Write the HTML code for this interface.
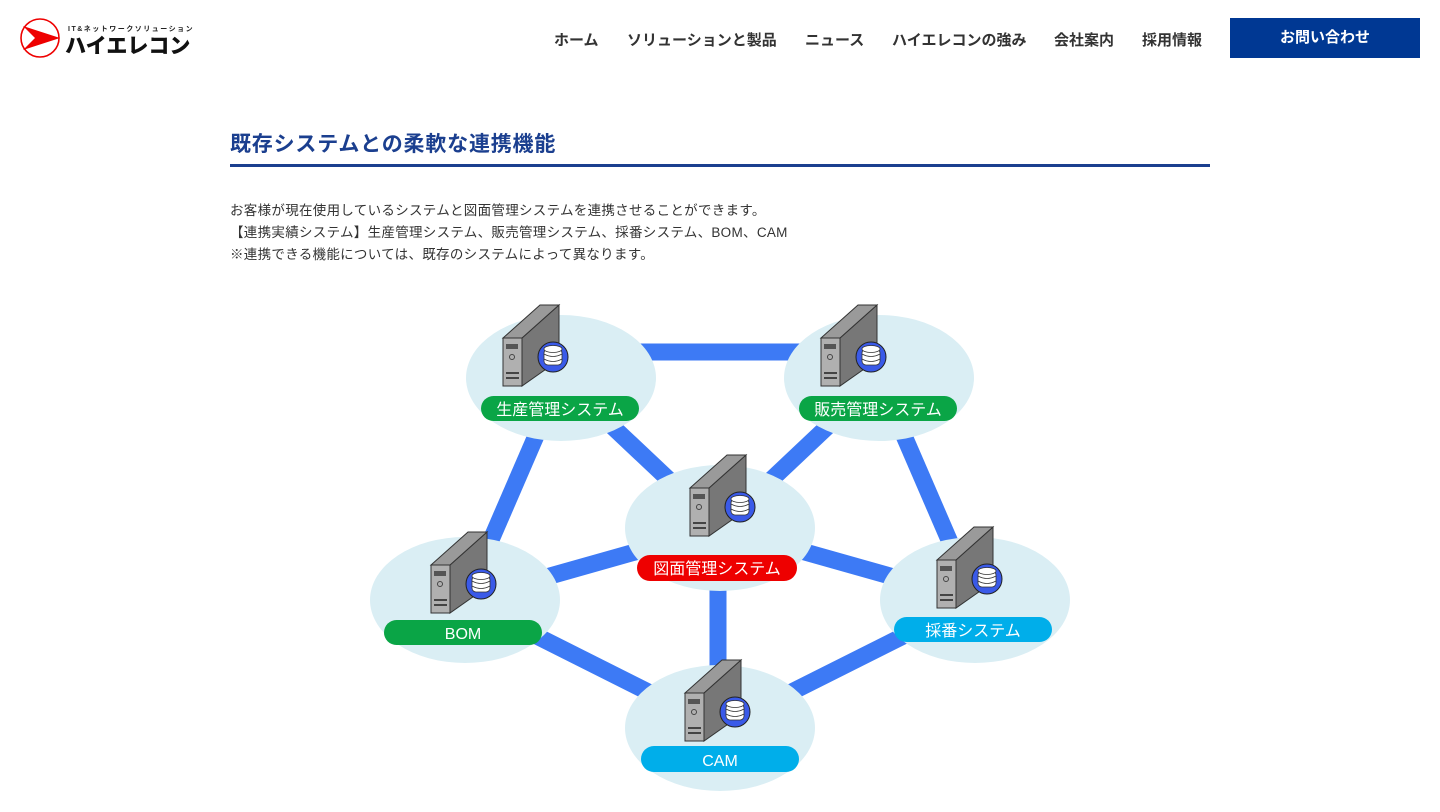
<!DOCTYPE html>
<html><head><meta charset="utf-8"><style>
body{margin:0;width:1440px;height:812px;background:#fff;font-family:"Liberation Sans","Noto Sans CJK JP",sans-serif;overflow:hidden;position:relative}
.nav{position:absolute;top:29px;font-size:15px;font-weight:bold;color:#333}
.btn{position:absolute;left:1230px;top:18px;width:190px;height:40px;background:#003893;color:#fff;font-weight:bold;font-size:15px;text-align:center;line-height:40px}
h2{position:absolute;left:230px;top:128px;margin:0;font-size:21px;letter-spacing:0.8px;color:#1b3f8f;font-weight:bold}
.ul{position:absolute;left:230px;top:164px;width:980px;height:3px;background:#1b3f8f}
.p{position:absolute;left:230px;top:200px;font-size:13.5px;letter-spacing:0.3px;color:#333;line-height:22px}
</style></head><body>
<svg style="position:absolute;left:18px;top:14px" width="180" height="48">
<circle cx="22" cy="24" r="19" fill="none" stroke="#e00" stroke-width="1.6"/>
<polygon points="5,12 42,24 5,36 17,24" fill="#e00"/>
<text x="50" y="17" font-size="7" font-weight="bold" fill="#222" letter-spacing="1.5">IT&amp;ネットワークソリューション</text>
<text x="47" y="39" font-size="21" font-weight="900" fill="#111">ハイエレコン</text>
</svg>
<div class="nav" style="left:554px">ホーム</div>
<div class="nav" style="left:627px">ソリューションと製品</div>
<div class="nav" style="left:805px">ニュース</div>
<div class="nav" style="left:892px">ハイエレコンの強み</div>
<div class="nav" style="left:1054px">会社案内</div>
<div class="nav" style="left:1142px">採用情報</div>
<div class="btn">お問い合わせ</div>
<h2>既存システムとの柔軟な連携機能</h2>
<div class="ul"></div>
<div class="p">お客様が現在使用しているシステムと図面管理システムを連携させることができます。<br>【連携実績システム】生産管理システム、販売管理システム、採番システム、BOM、CAM<br>※連携できる機能については、既存のシステムによって異なります。</div>
<svg style="position:absolute;left:0;top:0" width="1440" height="812">
<defs>
<g id="srv">
<polygon points="-39,-40 -2,-73 -2,-18 -39,8" fill="#777" stroke="#333" stroke-width="1"/>
<polygon points="-58,-40 -39,-40 -2,-73 -21,-73" fill="#9a9a9a" stroke="#333" stroke-width="1"/>
<rect x="-58" y="-40" width="19" height="48" fill="#b0b0b0" stroke="#333" stroke-width="1"/>
<rect x="-55" y="-34" width="12" height="5" fill="#555"/>
<circle cx="-49" cy="-21" r="2.5" fill="none" stroke="#444"/>
<rect x="-55" y="-6" width="13" height="2" fill="#444"/>
<rect x="-55" y="-1" width="13" height="2" fill="#444"/>
<circle cx="-8" cy="-21" r="15" fill="#3a5ae8" stroke="#222" stroke-width="1"/>
<rect x="-17" y="-29" width="18" height="16" rx="4" fill="#fff" stroke="#333" stroke-width="0.8"/>
<ellipse cx="-8" cy="-29" rx="9" ry="3.5" fill="#fff" stroke="#333" stroke-width="0.8"/>
<path d="M-17,-24 Q-8,-19 1,-24 M-17,-19 Q-8,-14 1,-19" fill="none" stroke="#333" stroke-width="0.8"/>
</g>
</defs>
<g stroke="#3d7af5" stroke-width="17">
<line x1="561" y1="352" x2="879" y2="352"/>
<line x1="561" y1="378" x2="720" y2="528"/>
<line x1="879" y1="378" x2="720" y2="528"/>
<line x1="561" y1="378" x2="465" y2="600"/>
<line x1="879" y1="378" x2="975" y2="600"/>
<line x1="720" y1="528" x2="465" y2="600"/>
<line x1="720" y1="528" x2="975" y2="600"/>
<line x1="718" y1="528" x2="718" y2="728"/>
<line x1="465" y1="600" x2="720" y2="728"/>
<line x1="975" y1="600" x2="720" y2="728"/>
</g>
<g fill="#daeef4">
<ellipse cx="561" cy="378" rx="95" ry="63"/>
<ellipse cx="879" cy="378" rx="95" ry="63"/>
<ellipse cx="720" cy="528" rx="95" ry="63"/>
<ellipse cx="465" cy="600" rx="95" ry="63"/>
<ellipse cx="975" cy="600" rx="95" ry="63"/>
<ellipse cx="720" cy="728" rx="95" ry="63"/>
</g>
<use href="#srv" x="561" y="378"/>
<use href="#srv" x="879" y="378"/>
<use href="#srv" x="748" y="528"/>
<use href="#srv" x="489" y="605"/>
<use href="#srv" x="995" y="600"/>
<use href="#srv" x="743" y="733"/>
<g font-size="16" fill="#fff" text-anchor="middle">
<rect x="481" y="396" width="158" height="25" rx="12.5" fill="#0aa546"/><text x="560" y="415">生産管理システム</text>
<rect x="799" y="396" width="158" height="25" rx="12.5" fill="#0aa546"/><text x="878" y="415">販売管理システム</text>
<rect x="637" y="555" width="160" height="26" rx="13" fill="#ee0000"/><text x="717" y="574">図面管理システム</text>
<rect x="384" y="620" width="158" height="25" rx="12.5" fill="#0aa546"/><text x="463" y="639">BOM</text>
<rect x="894" y="617" width="158" height="25" rx="12.5" fill="#00aeea"/><text x="973" y="636">採番システム</text>
<rect x="641" y="746" width="158" height="26" rx="13" fill="#00aeea"/><text x="720" y="766">CAM</text>
</g>
</svg>
</body></html>
